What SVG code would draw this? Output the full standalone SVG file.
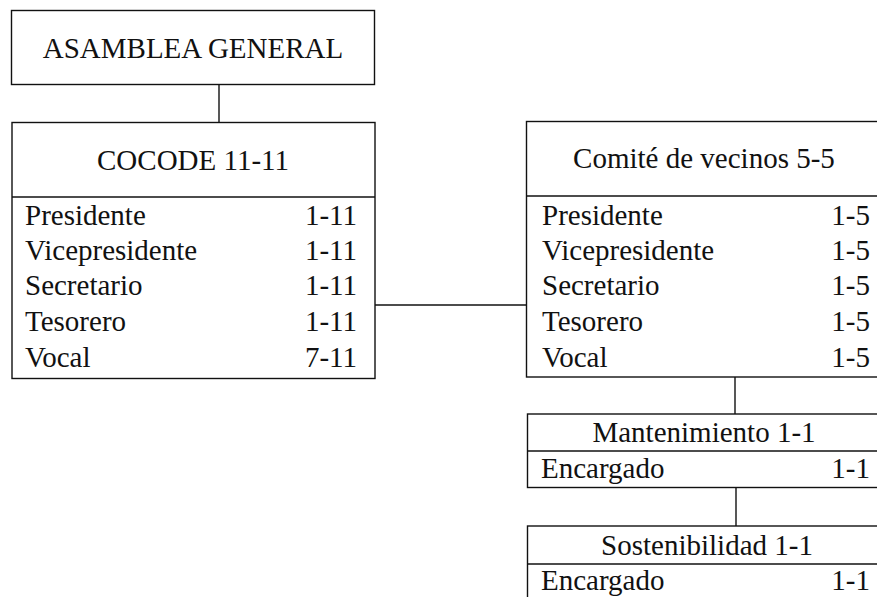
<svg xmlns="http://www.w3.org/2000/svg" width="877" height="597" viewBox="0 0 877 597">
<style>
.box{fill:#fff;stroke:#111;stroke-width:1.4}
.ln{stroke:#111;stroke-width:1.4;fill:none}
text{font-family:"Liberation Serif","Times New Roman",serif;font-size:29px;fill:#111}
.c{text-anchor:middle}
.r{text-anchor:end}
</style>
<rect width="877" height="597" fill="#fff"/>
<g id="connectors">
<line class="ln" x1="219" y1="84" x2="219" y2="122.5"/>
<line class="ln" x1="375" y1="305" x2="526.5" y2="305"/>
<line class="ln" x1="735" y1="377" x2="735" y2="414"/>
<line class="ln" x1="736" y1="487.5" x2="736" y2="526"/>
</g>
<g id="asamblea">
<rect class="box" x="11.5" y="10.5" width="363" height="74"/>
<text class="c" x="193" y="58">ASAMBLEA GENERAL</text>
</g>
<g id="cocode">
<rect class="box" x="12" y="122.5" width="363" height="256"/>
<line class="ln" x1="12" y1="197" x2="375" y2="197"/>
<text class="c" x="193" y="170">COCODE 11-11</text>
<text x="25" y="225">Presidente</text><text class="r" x="357" y="225">1-11</text>
<text x="25" y="260">Vicepresidente</text><text class="r" x="357" y="260">1-11</text>
<text x="25" y="295">Secretario</text><text class="r" x="357" y="295">1-11</text>
<text x="25" y="331">Tesorero</text><text class="r" x="357" y="331">1-11</text>
<text x="25" y="367">Vocal</text><text class="r" x="357" y="367">7-11</text>
</g>
<g id="comite">
<rect class="box" x="526.5" y="121.5" width="360" height="255.5"/>
<line class="ln" x1="526.5" y1="196" x2="886.5" y2="196"/>
<text class="c" x="704" y="168">Comité de vecinos 5-5</text>
<text x="542" y="225">Presidente</text><text class="r" x="870" y="225">1-5</text>
<text x="542" y="260">Vicepresidente</text><text class="r" x="870" y="260">1-5</text>
<text x="542" y="295">Secretario</text><text class="r" x="870" y="295">1-5</text>
<text x="542" y="331">Tesorero</text><text class="r" x="870" y="331">1-5</text>
<text x="542" y="367">Vocal</text><text class="r" x="870" y="367">1-5</text>
</g>
<g id="mantenimiento">
<rect class="box" x="527.5" y="414" width="360" height="73.5"/>
<line class="ln" x1="527.5" y1="451" x2="887.5" y2="451"/>
<text class="c" x="704" y="442">Mantenimiento 1-1</text>
<text x="541" y="478">Encargado</text><text class="r" x="870" y="478">1-1</text>
</g>
<g id="sostenibilidad">
<rect class="box" x="527.5" y="526" width="360" height="80"/>
<line class="ln" x1="527.5" y1="564" x2="887.5" y2="564"/>
<text class="c" x="707" y="555">Sostenibilidad 1-1</text>
<text x="541" y="590">Encargado</text><text class="r" x="870" y="590">1-1</text>
</g>
</svg>
